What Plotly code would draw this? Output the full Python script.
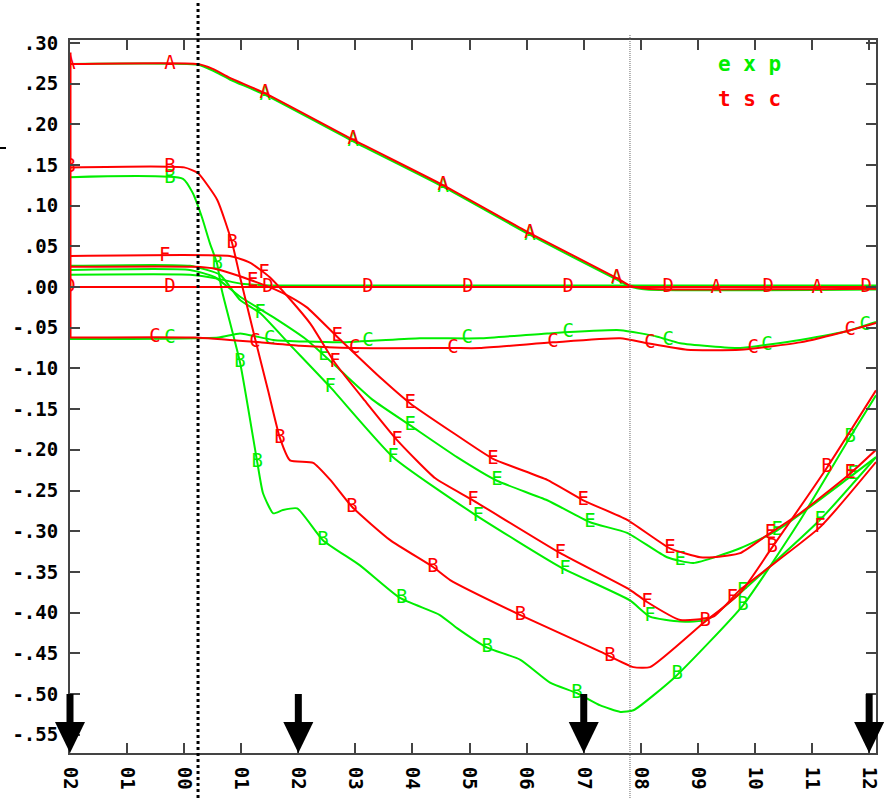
import numpy as np
import plotly.graph_objects as go

# ---- axis tick labels ----
x_ticks = list(range(-2, 13))
x_tick_text = ["02", "01", "00", "01", "02", "03", "04", "05", "06", "07", "08", "09", "10", "11", "12"]
y_ticks = [0.30, 0.25, 0.20, 0.15, 0.10, 0.05, 0.00, -0.05, -0.10, -0.15, -0.20, -0.25, -0.30, -0.35, -0.40, -0.45, -0.50, -0.55]
y_tick_text = [".30", ".25", ".20", ".15", ".10", ".05", ".00", "-.05", "-.10", "-.15", "-.20", "-.25", "-.30", "-.35", "-.40", "-.45", "-.50", "-.55"]

# ---- curve A ----
a_tsc_x = [-2, 0.24, 0.5, 0.8, 1.42, 2.96, 4.54, 6.06, 7.58, 7.8, 8.1, 12.12]
a_tsc_y = [0.274, 0.274, 0.268, 0.257, 0.238, 0.181, 0.125, 0.066, 0.011, 0.002, -0.002, -0.002]
a_exp_x = [-2, 0.24, 0.5, 0.8, 1.42, 2.96, 4.54, 6.06, 7.58, 7.8, 8.1, 12.12]
a_exp_y = [0.274, 0.273, 0.266, 0.255, 0.236, 0.179, 0.123, 0.064, 0.009, 0.001, -0.003, -0.003]
a_tsc_marks = [-2, -0.25, 1.42, 2.96, 4.54, 6.06, 7.58, 9.32, 11.09]
a_exp_marks = [1.42, 2.96, 4.54, 6.06, 7.58]

# ---- curve B ----
b_tsc_x = [-2, 0.0, 0.24, 0.58, 0.84, 0.98, 1.24, 1.47, 1.68, 1.855, 2.26, 2.56, 2.94, 3.61, 4.36, 4.66, 5.89, 7.29, 7.87, 8.16, 9.09, 9.74, 10.27, 11.26, 12.12]
b_tsc_y = [0.147, 0.147, 0.140, 0.107, 0.054, 0.012, -0.063, -0.127, -0.186, -0.213, -0.216, -0.237, -0.270, -0.311, -0.344, -0.360, -0.403, -0.448, -0.467, -0.467, -0.413, -0.376, -0.323, -0.222, -0.127]
b_exp_x = [-2, -0.02, 0.155, 0.31, 0.45, 0.576, 0.66, 0.98, 1.28, 1.38, 1.56, 1.73, 1.98, 2.43, 3.08, 3.78, 4.48, 4.78, 5.31, 5.89, 6.41, 6.88, 7.29, 7.64, 7.87, 8.60, 9.79, 10.76, 11.67, 12.12]
b_exp_y = [0.135, 0.133, 0.115, 0.086, 0.054, 0.029, -0.004, -0.093, -0.215, -0.253, -0.278, -0.274, -0.272, -0.311, -0.342, -0.382, -0.403, -0.419, -0.443, -0.458, -0.486, -0.499, -0.514, -0.522, -0.520, -0.479, -0.391, -0.290, -0.184, -0.133]
b_tsc_marks = [-2, -0.25, 0.84, 1.68, 2.94, 4.36, 5.89, 7.46, 9.13, 10.3, 11.26]
b_exp_marks = [-0.25, 0.58, 0.98, 1.28, 2.43, 3.81, 5.31, 6.88, 8.64, 9.79, 11.67]

# ---- curve C ----
c_tsc_x = [-2, 0.2, 1.33, 2.03, 2.96, 4.71, 5.18, 6.46, 7.64, 8.11, 8.81, 9.74, 10.79, 11.67, 12.12]
c_tsc_y = [-0.062, -0.062, -0.068, -0.072, -0.075, -0.075, -0.075, -0.068, -0.063, -0.069, -0.077, -0.077, -0.068, -0.053, -0.044]
c_exp_x = [-2, 0.6, 0.98, 1.56, 2.73, 4.13, 5.18, 6.36, 7.64, 8.29, 8.69, 9.74, 10.21, 10.79, 11.67, 12.12]
c_exp_y = [-0.064, -0.062, -0.057, -0.065, -0.068, -0.063, -0.063, -0.057, -0.053, -0.061, -0.069, -0.075, -0.071, -0.065, -0.053, -0.043]
c_tsc_marks = [-0.51, 1.24, 2.99, 4.71, 6.46, 8.16, 9.97, 11.67]
c_exp_marks = [-0.25, 1.5, 3.22, 4.96, 6.73, 8.48, 10.21, 11.93]

# ---- curve D ----
d_tsc_x = [-2, 12.12]
d_tsc_y = [0.0, 0.0]
d_exp_x = [-2, 0.1, 0.6, 1.0, 1.5, 12.12]
d_exp_y = [0.015, 0.015, 0.010, 0.004, 0.002, 0.002]
d_tsc_marks = [-2, -0.25, 1.47, 3.22, 4.97, 6.73, 8.48, 10.23, 11.95]

# ---- curve E ----
e_tsc_x = [-2, 0.19, 0.5, 0.856, 1.15, 1.56, 1.855, 2.15, 2.68, 3.48, 3.96, 4.71, 5.41, 6.36, 6.99, 7.76, 8.51, 9.04, 9.27, 9.74, 10.21, 10.79, 11.67, 12.12]
e_tsc_y = [0.025, 0.025, 0.023, 0.016, 0.009, -0.002, -0.012, -0.025, -0.061, -0.114, -0.143, -0.179, -0.211, -0.237, -0.262, -0.286, -0.321, -0.332, -0.332, -0.327, -0.305, -0.278, -0.229, -0.200]
e_exp_x = [-2, 0.1, 0.54, 0.98, 1.56, 2.15, 2.73, 3.31, 3.96, 4.78, 5.48, 6.36, 7.11, 7.76, 8.46, 8.92, 9.74, 10.39, 11.67, 12.12]
e_exp_y = [0.021, 0.021, 0.012, -0.012, -0.037, -0.065, -0.102, -0.139, -0.170, -0.209, -0.238, -0.262, -0.289, -0.302, -0.332, -0.339, -0.321, -0.299, -0.233, -0.209]
e_tsc_marks = [1.2, 2.68, 3.96, 5.41, 6.99, 8.51, 10.27, 11.67]
e_exp_marks = [2.45, 3.96, 5.48, 7.11, 8.69, 10.39, 11.72]

# ---- curve F ----
f_tsc_x = [-2, 0.8, 1.15, 1.50, 1.855, 2.21, 2.64, 3.17, 3.73, 4.40, 5.06, 6.59, 7.81, 8.11, 8.69, 9.27, 9.74, 11.14, 12.12]
f_tsc_y = [0.038, 0.038, 0.030, 0.012, -0.015, -0.045, -0.093, -0.140, -0.188, -0.235, -0.262, -0.327, -0.372, -0.387, -0.409, -0.405, -0.372, -0.295, -0.215]
f_exp_x = [-2, 0.1, 0.63, 0.98, 1.33, 1.855, 2.56, 3.66, 5.06, 6.59, 7.81, 8.16, 8.69, 9.16, 9.74, 11.14, 12.12]
f_exp_y = [0.026, 0.026, 0.015, -0.016, -0.032, -0.071, -0.123, -0.209, -0.278, -0.344, -0.385, -0.405, -0.411, -0.409, -0.376, -0.286, -0.209]
f_tsc_marks = [-0.34, 1.40, 2.64, 3.73, 5.06, 6.59, 8.11, 9.6, 11.14]
f_exp_marks = [1.33, 2.56, 3.66, 5.15, 6.67, 8.16, 9.78, 11.14]

# computed curves share a common start edge at t = -2
tsc_edge_x = [-2, -2]
tsc_edge_y = [0.288, -0.062]

# ---- reference lines and arrows ----
black_marker_x = 0.243
grey_marker_x = 7.81
arrow_x = [-2, 2, 7, 12]

X_RANGE = [-2, 12.12]
Y_RANGE = [-0.5725, 0.3035]
EXP_COLOR = "#00ee00"
TSC_COLOR = "#ff0000"

fig = go.Figure()

curves = [
    ("A", a_exp_x, a_exp_y, a_exp_marks, a_tsc_x, a_tsc_y, a_tsc_marks),
    ("B", b_exp_x, b_exp_y, b_exp_marks, b_tsc_x, b_tsc_y, b_tsc_marks),
    ("C", c_exp_x, c_exp_y, c_exp_marks, c_tsc_x, c_tsc_y, c_tsc_marks),
    ("D", d_exp_x, d_exp_y, [], d_tsc_x, d_tsc_y, d_tsc_marks),
    ("E", e_exp_x, e_exp_y, e_exp_marks, e_tsc_x, e_tsc_y, e_tsc_marks),
    ("F", f_exp_x, f_exp_y, f_exp_marks, f_tsc_x, f_tsc_y, f_tsc_marks),
]

letter_font = dict(family="DejaVu Sans Mono", size=19)

# measured (exp) curves underneath, computed (tsc) curves on top
for layer in ("exp", "tsc"):
    for name, ex, ey, em, tx, ty, tm in curves:
        if layer == "exp":
            xs, ys, marks, color = ex, ey, em, EXP_COLOR
        else:
            xs, ys, marks, color = tx, ty, tm, TSC_COLOR
        fig.add_trace(go.Scatter(
            x=xs, y=ys, mode="lines",
            line=dict(color=color, width=2, shape="spline", smoothing=0.5),
            hoverinfo="skip", showlegend=False, cliponaxis=True,
        ))
        if marks:
            my = np.interp(marks, xs, ys)
            fig.add_trace(go.Scatter(
                x=marks, y=my, mode="text", text=[name] * len(marks),
                textposition="middle center",
                textfont=dict(color=color, **letter_font),
                hoverinfo="skip", showlegend=False, cliponaxis=True,
            ))

fig.add_trace(go.Scatter(
    x=tsc_edge_x, y=tsc_edge_y, mode="lines",
    line=dict(color=TSC_COLOR, width=3),
    hoverinfo="skip", showlegend=False, cliponaxis=False,
))

# plot area size in pixels (used to size the arrows)
PLOT_W = 893 - 70 - 17
PLOT_H = 798 - 40 - 45


def xd(v):
    return (v - X_RANGE[0]) / (X_RANGE[1] - X_RANGE[0])


def yd(v):
    return (v - Y_RANGE[0]) / (Y_RANGE[1] - Y_RANGE[0])


shapes = []
# vertical reference lines
shapes.append(dict(type="line", xref="x domain", yref="y domain",
                   x0=xd(black_marker_x), x1=xd(black_marker_x),
                   y0=-45 / PLOT_H, y1=1 + 40 / PLOT_H,
                   line=dict(color="black", width=3, dash="3px,3px")))
shapes.append(dict(type="line", xref="x domain", yref="y domain",
                   x0=xd(grey_marker_x), x1=xd(grey_marker_x),
                   y0=-45 / PLOT_H, y1=1 + 5 / PLOT_H,
                   line=dict(color="#666666", width=1, dash="1px,1px")))

# downward arrows onto the time axis
shaft_top = yd(-0.50)
head_base = 31 / PLOT_H
half_head = 15 / PLOT_W
half_shaft = 3.5 / PLOT_W
for ax in arrow_x:
    cx = xd(ax)
    shapes.append(dict(type="rect", xref="x domain", yref="y domain",
                       x0=cx - half_shaft, x1=cx + half_shaft,
                       y0=head_base - 0.002, y1=shaft_top,
                       fillcolor="black", line=dict(width=0)))
    shapes.append(dict(type="path", xref="x domain", yref="y domain",
                       path=f"M {cx - half_head} {head_base} L {cx + half_head} {head_base} L {cx} 0 Z",
                       fillcolor="black", line=dict(width=0)))

# small dash at the left margin
shapes.append(dict(type="line", xref="x domain", yref="y domain",
                   x0=-70 / PLOT_W, x1=-64 / PLOT_W,
                   y0=(753 - 148) / PLOT_H, y1=(753 - 148) / PLOT_H,
                   line=dict(color="black", width=2)))

legend_font = dict(family="DejaVu Sans Mono", size=21, weight="bold")
annotations = [
    dict(text="e x p", x=(749 - 70) / PLOT_W, y=(753 - 64) / PLOT_H,
         xref="x domain", yref="y domain", showarrow=False,
         xanchor="center", yanchor="middle",
         font=dict(color=EXP_COLOR, **legend_font)),
    dict(text="t s c", x=(749 - 70) / PLOT_W, y=(753 - 99) / PLOT_H,
         xref="x domain", yref="y domain", showarrow=False,
         xanchor="center", yanchor="middle",
         font=dict(color=TSC_COLOR, **legend_font)),
]

axis_common = dict(
    showline=True, linecolor="#444444", linewidth=2, mirror="ticks",
    ticks="inside", ticklen=10, tickwidth=2, tickcolor="#444444",
    showgrid=False, zeroline=False, automargin=False,
    tickfont=dict(family="DejaVu Sans Mono", size=19, color="black", weight="bold"),
)

fig.update_layout(
    width=893, height=798,
    margin=dict(l=70, r=17, t=40, b=45, pad=0, autoexpand=False),
    paper_bgcolor="white", plot_bgcolor="white",
    xaxis=dict(range=X_RANGE, tickvals=x_ticks, ticktext=x_tick_text,
               tickangle=90, ticklabelstandoff=8, **axis_common),
    yaxis=dict(range=Y_RANGE, tickvals=y_ticks, ticktext=y_tick_text,
               ticklabelstandoff=6, **axis_common),
    shapes=shapes, annotations=annotations,
    showlegend=False,
)

fig.write_html("out.html")
